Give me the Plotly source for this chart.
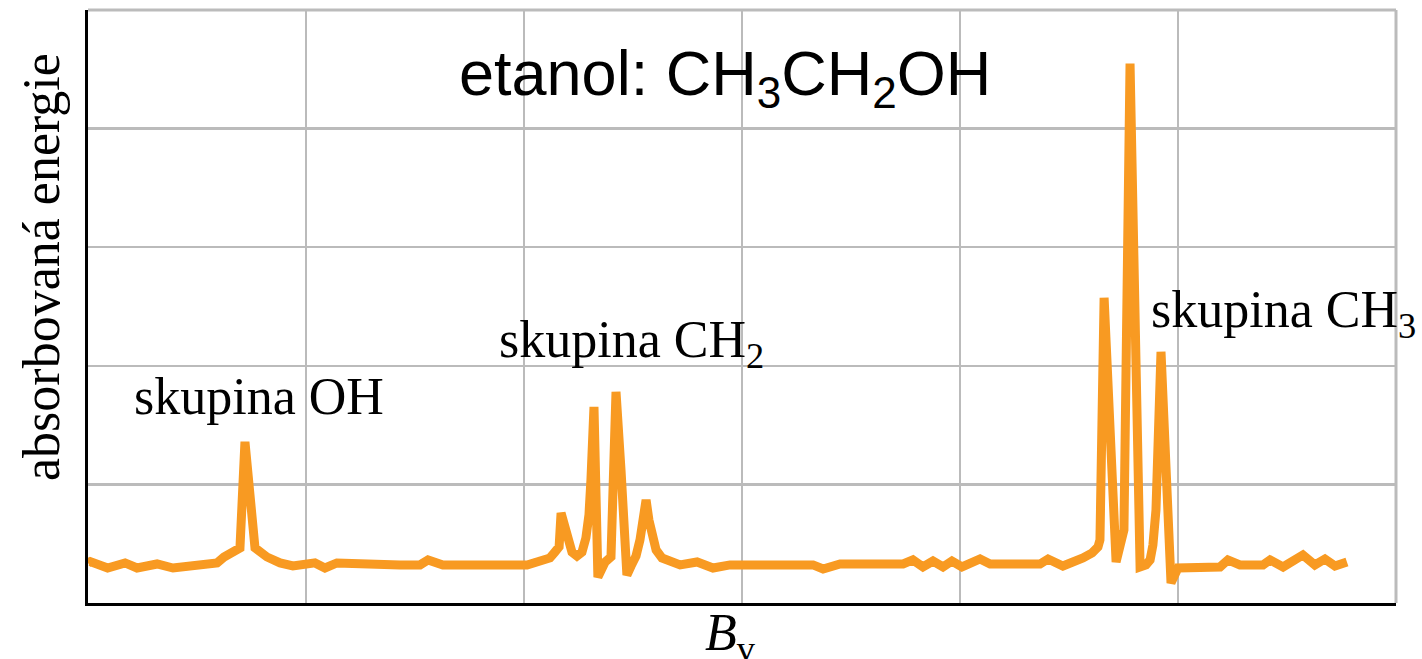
import plotly.graph_objects as go

# Spectrum trace (x in grid units 0..6, y in grid units 0..5)
x_vals = [0.00, 0.01, 0.09, 0.17, 0.225, 0.317, 0.39, 0.528, 0.592, 0.624, 0.697, 0.720, 0.766, 0.821,
          0.881, 0.94, 1.041, 1.087, 1.142, 1.431, 1.523, 1.56, 1.628,
          2.014, 2.073, 2.119, 2.142, 2.161, 2.170, 2.188, 2.202, 2.220, 2.243, 2.266, 2.284, 2.298,
          2.307, 2.321, 2.339, 2.372, 2.399, 2.422, 2.445, 2.459, 2.472, 2.491, 2.514, 2.532, 2.546,
          2.560, 2.573, 2.587, 2.606, 2.633, 2.670, 2.716,
          2.794, 2.867, 2.945, 3.266, 3.326, 3.372, 3.45, 3.739, 3.784, 3.83, 3.876,
          3.922, 3.963, 4.009, 4.092, 4.138, 4.367, 4.404, 4.472,
          4.564, 4.606, 4.633, 4.642, 4.661, 4.716, 4.752, 4.780, 4.826, 4.853, 4.872, 4.885, 4.899,
          4.922, 4.968, 5.000,
          5.193, 5.229, 5.284, 5.39, 5.422, 5.482, 5.573, 5.628, 5.674, 5.72, 5.775]
y_vals = [0.34, 0.349, 0.295, 0.338, 0.295, 0.329, 0.295, 0.321, 0.338, 0.388, 0.464, 1.359, 0.464, 0.388,
          0.338, 0.312, 0.338, 0.295, 0.338, 0.321, 0.321, 0.363, 0.321,
          0.321, 0.346, 0.380, 0.430, 0.473, 0.759, 0.641, 0.515, 0.430, 0.397, 0.430, 0.549, 0.743,
          1.038, 1.654, 0.219, 0.346, 0.388, 1.781, 1.122, 0.616, 0.236, 0.312, 0.397, 0.532, 0.700,
          0.869, 0.700, 0.557, 0.447, 0.380, 0.346, 0.321,
          0.346, 0.295, 0.321, 0.321, 0.321, 0.287, 0.329, 0.329, 0.363, 0.304, 0.354,
          0.304, 0.354, 0.304, 0.371, 0.329, 0.329, 0.371, 0.312,
          0.380, 0.422, 0.473, 0.532, 2.574, 0.346, 0.616, 4.549, 0.304, 0.321, 0.363, 0.489, 0.785,
          2.118, 0.169, 0.295,
          0.304, 0.363, 0.321, 0.321, 0.363, 0.304, 0.405, 0.321, 0.371, 0.312, 0.346]

x_ticks = [0, 1, 2, 3, 4, 5, 6]
y_ticks = [0, 1, 2, 3, 4, 5]

title_text = "etanol: CH<sub>3</sub>CH<sub>2</sub>OH"
labels = ["skupina OH", "skupina CH<sub>2</sub>", "skupina CH<sub>3</sub>"]
label_x = [0.784, 2.491, 5.486]
label_y = [1.74, 2.19, 2.44]

ORANGE = "#F89A22"
GRID = "#BBBBBB"
SERIF = "Liberation Serif, Times New Roman, serif"
SANS = "Liberation Sans, Arial, sans-serif"

fig = go.Figure()
fig.add_trace(go.Scatter(x=x_vals, y=y_vals, mode="lines",
                         line=dict(color=ORANGE, width=9), hoverinfo="skip"))

annotations = [
    dict(x=2.922, y=4.43, xref="x", yref="y", text=title_text, showarrow=False,
         font=dict(family=SANS, size=63, color="black"), xanchor="center", yanchor="middle"),
    dict(x=-0.035, y=0.567, xref="paper", yref="paper", text="absorbovaná energie",
         textangle=-90, showarrow=False, font=dict(family=SERIF, size=52, color="black"),
         xanchor="center", yanchor="middle"),
    dict(x=2.945, y=-0.056, xref="x", yref="paper", text="<i>B</i><sub>v</sub>",
         showarrow=False, font=dict(family=SERIF, size=52, color="black"),
         xanchor="center", yanchor="middle"),
]
for t, lx, ly in zip(labels, label_x, label_y):
    annotations.append(dict(x=lx, y=ly, xref="x", yref="y", text=t, showarrow=False,
                            font=dict(family=SERIF, size=52, color="black"),
                            xanchor="center", yanchor="middle"))

fig.update_layout(
    width=1422, height=659,
    margin=dict(l=88, r=26, t=10, b=56),
    paper_bgcolor="white", plot_bgcolor="white",
    showlegend=False,
    annotations=annotations,
    xaxis=dict(range=[0, 6], tickvals=x_ticks, showticklabels=False, ticks="",
               showgrid=True, gridcolor=GRID, gridwidth=2.5, zeroline=False,
               showline=True, linecolor="black", linewidth=3),
    yaxis=dict(range=[0, 5], tickvals=y_ticks, showticklabels=False, ticks="",
               showgrid=True, gridcolor=GRID, gridwidth=2.5, zeroline=False,
               showline=True, linecolor="black", linewidth=3),
    shapes=[
        dict(type="line", xref="paper", yref="paper", x0=0, x1=1, y0=1, y1=1,
             line=dict(color=GRID, width=3), layer="below"),
        dict(type="line", xref="paper", yref="paper", x0=1, x1=1, y0=0, y1=1,
             line=dict(color=GRID, width=3), layer="below"),
    ],
)

fig.write_html("out.html", config={"displayModeBar": False, "staticPlot": True})

# remove the default page margin so the figure fills the window exactly
with open("out.html", "r", encoding="utf-8") as f:
    html = f.read()
html = html.replace("<body>", '<body style="margin:0;overflow:hidden">', 1)
with open("out.html", "w", encoding="utf-8") as f:
    f.write(html)
